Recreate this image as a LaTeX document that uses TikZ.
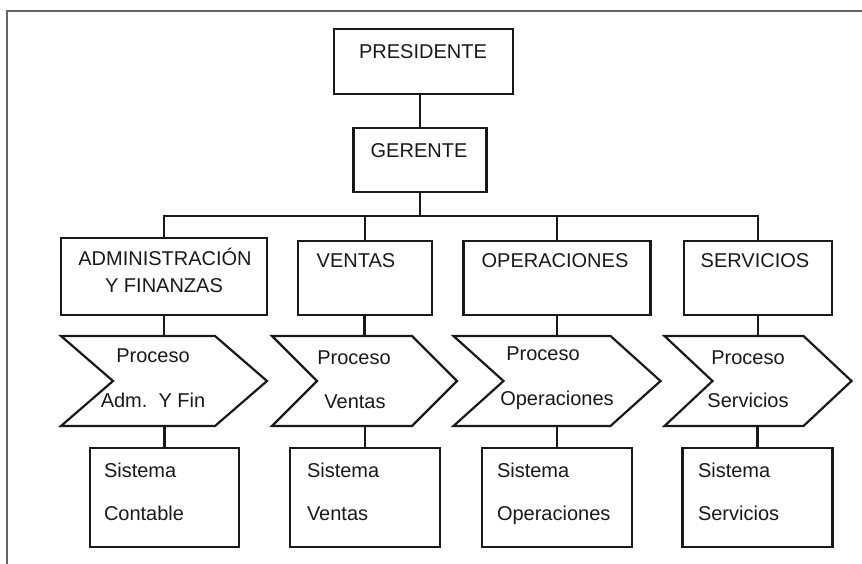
\documentclass[tikz,border=0pt]{standalone}
\usepackage{fontspec}
\setmainfont{Liberation Sans}
\usetikzlibrary{calc}
\tikzset{
  box/.style={draw=black!90, line width=2.4pt, outer sep=0pt, inner sep=0pt, fill=white},
  chevnode/.style={draw=none, outer sep=0pt, inner sep=0pt},
  chev/.style={draw=black!90, line width=2.2pt, line join=miter},
  conn/.style={draw=black!90, line width=2.2pt},
  frameline/.style={draw=black!60, line width=2.4pt},
  lbl/.style={inner sep=0pt, outer sep=0pt, font=\fontsize{20}{24}\selectfont, text height=14.3pt, text depth=0pt, text=black!90}
}
\newcommand\drawchevron[2]{%
  \draw[chev] (#1.north west) -- ([xshift=-#2pt]#1.north east) -- (#1.east)
    -- ([xshift=-#2pt]#1.south east) -- (#1.south west) -- ([xshift=#2pt]#1.west) -- cycle;}
\begin{document}
\begin{tikzpicture}[x=1pt,y=-1pt]
\useasboundingbox (0,0) rectangle (862,564);
\fill[white] (0,0) rectangle (862,564);
\draw[frameline] (7,570) -- (7,11) -- (870,11);

% level 1
\node[box, minimum width=179pt, minimum height=65pt] (pres) at (423.5,61.5) {};
\node[lbl] (presT) at (423,51) {PRESIDENTE};
\node[box, minimum width=133pt, minimum height=64pt] (ger) at (420,160) {};
\node[lbl] (gerT) at (419,150) {GERENTE};
\coordinate (bar) at (0,216);

% level 2
\node[box, minimum width=206pt, minimum height=77pt] (adm) at (164,276.5) {};
\node[lbl] (admT1) at (165,258) {ADMINISTRACIÓN};
\node[lbl] (admT2) at (164,285) {Y FINANZAS};
\node[box, minimum width=134pt, minimum height=74pt] (ven) at (365,278) {};
\node[lbl] (venT) at (356,260) {VENTAS};
\node[box, minimum width=187pt, minimum height=74pt] (ope) at (557,278) {};
\node[lbl] (opeT) at (555,260) {OPERACIONES};
\node[box, minimum width=148pt, minimum height=74pt] (ser) at (758,278) {};
\node[lbl] (serT) at (755,260) {SERVICIOS};

% chevrons
\node[chevnode, minimum width=206pt, minimum height=90pt] (ch1) at (164,381) {};
\node[chevnode, minimum width=185pt, minimum height=90pt] (ch2) at (364.5,381) {};
\node[chevnode, minimum width=207pt, minimum height=90pt] (ch3) at (557,381) {};
\node[chevnode, minimum width=187pt, minimum height=90pt] (ch4) at (758,381) {};
\drawchevron{ch1}{52}
\drawchevron{ch2}{45}
\drawchevron{ch3}{50}
\drawchevron{ch4}{48}
\node[lbl] (ch1T1) at (153,355) {Proceso};
\node[lbl] (ch1T2) at (153,400) {Adm.\ \ Y Fin};
\node[lbl] (ch2T1) at (354,357) {Proceso};
\node[lbl] (ch2T2) at (355,401) {Ventas};
\node[lbl] (ch3T1) at (543,353) {Proceso};
\node[lbl] (ch3T2) at (557,398) {Operaciones};
\node[lbl] (ch4T1) at (748,357) {Proceso};
\node[lbl] (ch4T2) at (748,400) {Servicios};

% level 3
\node[box, minimum width=149pt, minimum height=99pt] (b1) at (164.5,497.5) {};
\node[box, minimum width=150pt, minimum height=99pt] (b2) at (365,497.5) {};
\node[box, minimum width=150pt, minimum height=99pt] (b3) at (557,497.5) {};
\node[box, minimum width=150pt, minimum height=99pt] (b4) at (757.5,497.5) {};
\node[lbl, anchor=west] (b1T1) at (104,470) {Sistema};
\node[lbl, anchor=west] (b1T2) at (104,513) {Contable};
\node[lbl, anchor=west] (b2T1) at (307,470) {Sistema};
\node[lbl, anchor=west] (b2T2) at (307,513) {Ventas};
\node[lbl, anchor=west] (b3T1) at (497,470) {Sistema};
\node[lbl, anchor=west] (b3T2) at (497,513) {Operaciones};
\node[lbl, anchor=west] (b4T1) at (698,470) {Sistema};
\node[lbl, anchor=west] (b4T2) at (698,513) {Servicios};

% connectors
\draw[conn] (ger.north) -- (ger.north |- pres.south);
\draw[conn] (ger.south) -- (ger.south |- bar);
\draw[conn] (adm.north) -- (adm.north |- bar) -- (ser.north |- bar) -- (ser.north);
\draw[conn] (ven.north) -- (ven.north |- bar);
\draw[conn] (ope.north) -- (ope.north |- bar);
\draw[conn] (ch1.north) -- (ch1.north |- adm.south);
\draw[conn] (ch2.north) -- (ch2.north |- ven.south);
\draw[conn] (ch3.north) -- (ch3.north |- ope.south);
\draw[conn] (ch4.north) -- (ch4.north |- ser.south);
\draw[conn] (b1.north) -- (b1.north |- ch1.south);
\draw[conn] (b2.north) -- (b2.north |- ch2.south);
\draw[conn] (b3.north) -- (b3.north |- ch3.south);
\draw[conn] (b4.north) -- (b4.north |- ch4.south);
\end{tikzpicture}
\end{document}
